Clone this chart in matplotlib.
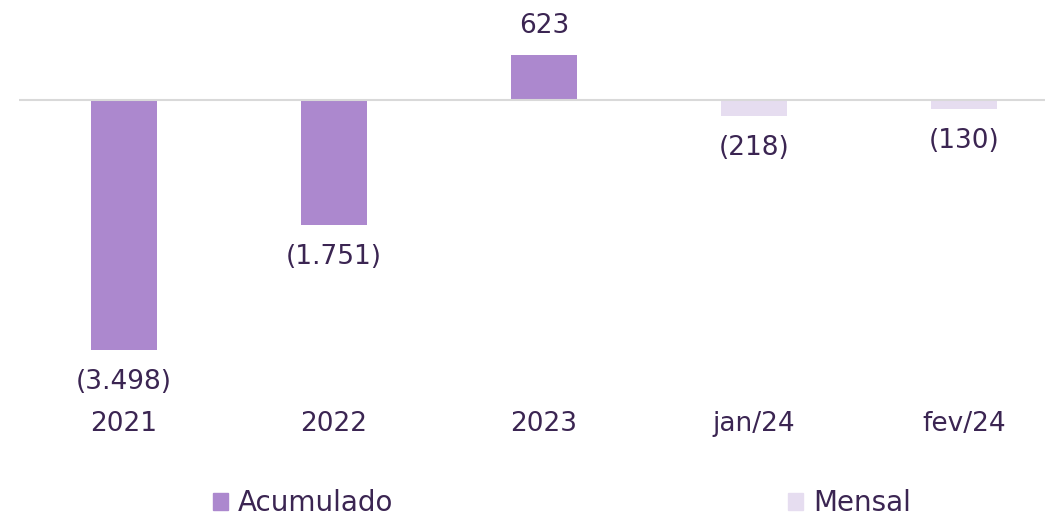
import matplotlib.pyplot as plt
from matplotlib.patches import Patch

# data
categories = ["2021", "2022", "2023", "jan/24", "fev/24"]
acumulado = [-3498, -1751, 623, None, None]
mensal = [None, None, None, -218, -130]
labels = ["(3.498)", "(1.751)", "623", "(218)", "(130)"]

c_acum = "#AC88CE"
c_mens = "#E6DDF0"
c_text = "#3B2552"

plt.rcParams['font.family'] = ['DejaVu Sans']

fig = plt.figure(figsize=(10.45, 5.16), dpi=100)
# axes: left px 19 .. right 1045, top px 0 .. bottom px 400
ax = fig.add_axes([19 / 1045, 1 - 400 / 516, 1 - 19 / 1045, 400 / 516])

x = list(range(len(categories)))
w = 0.314
xa = [i for i, v in zip(x, acumulado) if v is not None]
va = [v for v in acumulado if v is not None]
xm = [i for i, v in zip(x, mensal) if v is not None]
vm = [v for v in mensal if v is not None]
ax.bar(xa, va, width=w, color=c_acum, zorder=2)
ax.bar(xm, vm, width=w, color=c_mens, zorder=2)

# scale: 0.0715 px per unit, zero line at px 100
k = 0.0715
ax.set_ylim(-300 / k, 100 / k)
ax.set_xlim(-0.5, (1045 - 124) / 210)
ax.axhline(0, color="#D9D9D9", lw=1.5, zorder=3)

vals = [a if a is not None else m for a, m in zip(acumulado, mensal)]
for i, (v, lab) in enumerate(zip(vals, labels)):
    off = 21 if v > 0 else -23
    ax.annotate(lab, (i, v), xytext=(0, off), textcoords="offset points",
                ha="center", va="center", fontsize=19, color=c_text)

ax.set_xticks(x)
ax.set_xticklabels(categories, fontsize=19, color=c_text)
ax.tick_params(axis="x", length=0, pad=8)
ax.set_yticks([])
for s in ax.spines.values():
    s.set_visible(False)

# two separate legend entries, spread apart like the original
ly = 1 - 503 / 516
for h, xpos in [(Patch(color=c_acum, label="Acumulado"), 213 / 1045),
                (Patch(color=c_mens, label="Mensal"), 788 / 1045)]:
    leg = fig.legend(handles=[h], loc="center left", bbox_to_anchor=(xpos, ly),
                     frameon=False, fontsize=20, labelcolor=c_text,
                     borderpad=0, borderaxespad=0,
                     handlelength=0.55, handleheight=0.55, handletextpad=0.35)

fig.savefig("out.png", dpi=100)
